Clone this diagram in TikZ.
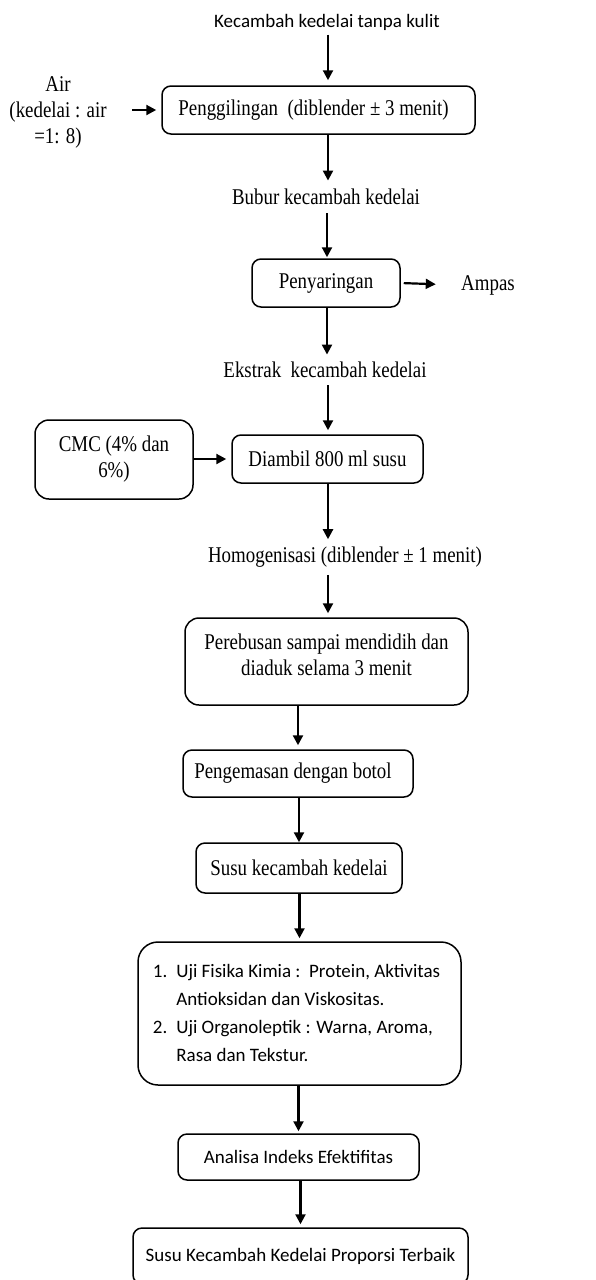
\documentclass[tikz,border=0pt]{standalone}
\usepackage{fontspec}
\setmainfont{Liberation Serif}
\newfontfamily\tnr[FakeStretch=0.84]{Liberation Serif}
\newfontfamily\calfont{Carlito}
\usetikzlibrary{arrows.meta,calc}
\begin{document}
\begin{tikzpicture}[x=1pt,y=-1pt,
  box/.style={draw, line width=1.5pt, rounded corners=9pt, inner sep=0pt, align=center},
  tt/.style={font=\tnr\fontsize{22.5}{26}\selectfont},
  ct/.style={font=\calfont\fontsize{19}{28}\selectfont},
  arr/.style={-{Triangle[length=10pt,width=10pt]}, line width=2.2pt}]
\clip (0,0) rectangle (595,1280);
\fill[white] (0,0) rectangle (595,1280);

\node[ct] (t0) at (327,22) {Kecambah kedelai tanpa kulit};
\node[box,tt,minimum width=313pt,minimum height=48pt] (b1) at (318.5,110) {Penggilingan\ \ (diblender ± 3 menit)\hspace*{10pt}};
\node[tt,align=center] (air) at (58,112) {Air\\(kedelai : air\\=1: 8)};
\node[tt] (bub) at (326,197) {Bubur kecambah kedelai};
\node[box,tt,minimum width=148pt,minimum height=48pt] (b2) at (326,283) {Penyaringan};
\node[tt] (amp) at (488,285) {Ampas};
\node[tt] (eks) at (325,370) {Ekstrak\ \ kecambah kedelai};
\node[box,tt,minimum width=191pt,minimum height=48pt] (b3) at (327.5,459) {Diambil 800 ml susu};
\node[box,tt,minimum width=158pt,minimum height=79pt,rounded corners=14pt] (cmc) at (114,459.5) {CMC (4\% dan\\6\%)};
\node[tt] (hom) at (345,557) {Homogenisasi (diblender ± 1 menit)};
\node[box,tt,minimum width=283pt,minimum height=87pt,rounded corners=14pt] (b4) at (326.5,661.5) {Perebusan sampai mendidih dan\\diaduk selama 3 menit\rule[-14pt]{0pt}{1pt}};
\node[box,tt,minimum width=230pt,minimum height=47pt] (b5) at (298,773.5) {Pengemasan dengan botol\hspace*{10pt}};
\node[box,tt,minimum width=206pt,minimum height=50pt] (b6) at (299,868) {Susu kecambah kedelai};
\node[box,ct,minimum width=323pt,minimum height=143pt,rounded corners=20pt] (b7) at (299.5,1013.5)
  {\begin{tabular}{@{}l@{\hspace{9pt}}l@{}}
   1. & Uji Fisika Kimia :\ \ Protein, Aktivitas\\
      & Antioksidan dan Viskositas.\\
   2. & Uji Organoleptik : Warna, Aroma,\\
      & Rasa dan Tekstur.
   \end{tabular}\hspace*{6pt}};
\node[box,ct,minimum width=241pt,minimum height=46pt] (b8) at (298.5,1157) {Analisa Indeks Efektifitas};
\node[box,ct,minimum width=335pt,minimum height=56pt] (b9) at (300.5,1256) {Susu Kecambah Kedelai Proporsi Terbaik};

\draw[arr,shorten <=1pt,shorten >=5pt] (t0.south -| 328,0) -- (b1.north -| 328,0);
\draw[arr,shorten <=22pt,shorten >=5pt] (air.east |- b1.west) -- (b1.west);
\draw[arr,shorten >=5pt] (b1.south -| 328,0) -- (bub.north -| 328,0);
\draw[arr,shorten <=5pt,shorten >=1pt] (bub.south -| 327,0) -- (b2.north -| 327,0);
\draw[arr,shorten <=3pt,shorten >=22pt] (b2.east) -- (amp.west);
\draw[arr,shorten >=4pt] (b2.south -| 327,0) -- (eks.north -| 327,0);
\draw[arr,shorten <=4pt,shorten >=4pt] (eks.south -| 328,0) -- (b3.north -| 328,0);
\draw[arr,shorten >=5pt] (cmc.east |- b3.west) -- (b3.west);
\draw[arr,shorten >=4pt] (b3.south -| 328,0) -- (hom.north -| 328,0);
\draw[arr,shorten <=4pt,shorten >=4pt] (hom.south -| 328,0) -- (b4.north -| 328,0);
\draw[arr,shorten >=4pt] (b4.south -| b5.north) -- (b5.north);
\draw[arr] (b5.south -| b6.north) -- (b6.north);
\draw[arr,shorten >=3pt] (b6.south -| b7.north) -- (b7.north);
\draw[arr,shorten >=2pt] (b7.south -| b8.north) -- (b8.north);
\draw[arr,shorten >=3pt] (b8.south -| b9.north) -- (b9.north);
\end{tikzpicture}
\end{document}
